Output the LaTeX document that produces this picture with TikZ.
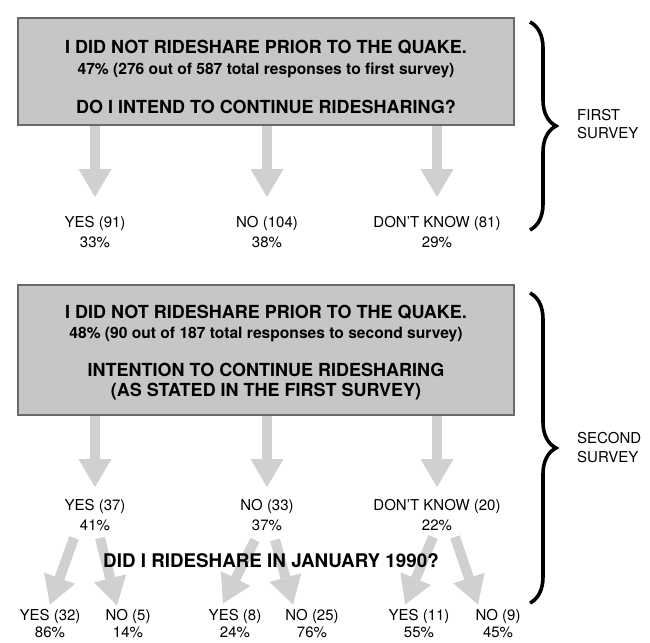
\documentclass[tikz,border=0pt]{standalone}
\usepackage{fontspec}
\setmainfont{TeX Gyre Heros}
\usetikzlibrary{arrows.meta,decorations.pathreplacing}
\definecolor{boxgray}{RGB}{198,198,198}
\definecolor{arrowgray}{RGB}{208,208,208}
\definecolor{edgegray}{RGB}{105,105,105}
\tikzset{
  surveybox/.style={draw=edgegray,line width=1.5pt,fill=boxgray,minimum width=496pt,inner sep=0pt},
  boxhead/.style={inner sep=0pt,font=\fontsize{18}{22}\selectfont\bfseries},
  boxsub/.style={inner sep=0pt,font=\fontsize{15.6}{18}\selectfont\bfseries},
  answer/.style={align=center,inner sep=0pt,font=\fontsize{15}{20}\selectfont},
  lastanswer/.style={answer,font=\fontsize{15}{17}\selectfont},
  fatarrow/.style={draw=arrowgray,line width=10pt,-{Triangle[width=33pt,length=28pt,line width=0pt]}},
  bigbrace/.style={decorate,decoration={brace,amplitude=26pt,aspect=0.5},line width=3.6pt}
}
\begin{document}
\begin{tikzpicture}[x=1pt,y=-1pt]
  \useasboundingbox (0,0) rectangle (650,642);

  % First survey
  \node [surveybox,minimum height=107pt] (box1) at (266,71.5) {};
  \node [boxhead] (t1a) at (266,47) {I DID NOT RIDESHARE PRIOR TO THE QUAKE.};
  \node [boxsub] (t1b) at (266,70) {47\% (276 out of 587 total responses to first survey)};
  \node [boxhead] (t1c) at (266,107) {DO I INTEND TO CONTINUE RIDESHARING?};

  \node [answer] (y1) at (95,232) {YES (91)\\33\%};
  \node [answer] (n1) at (267,232) {NO (104)\\38\%};
  \node [answer] (d1) at (437,232) {DON'T KNOW (81)\\29\%};

  \draw [fatarrow] (box1.south -| y1) -- ([yshift=19pt]y1.north);
  \draw [fatarrow] (box1.south -| n1) -- ([yshift=19pt]n1.north);
  \draw [fatarrow] (box1.south -| d1) -- ([yshift=19pt]d1.north);

  % Second survey
  \node [surveybox,minimum height=130pt] (box2) at (266,350) {};
  \node [boxhead] (t2a) at (266,312) {I DID NOT RIDESHARE PRIOR TO THE QUAKE.};
  \node [boxsub] (t2b) at (266,335) {48\% (90 out of 187 total responses to second survey)};
  \node [boxhead] (t2c) at (266,370) {INTENTION TO CONTINUE RIDESHARING};
  \node [boxhead] (t2d) at (266,392) {(AS STATED IN THE FIRST SURVEY)};

  \node [answer] (y2) at (95,515) {YES (37)\\41\%};
  \node [answer] (n2) at (267,515) {NO (33)\\37\%};
  \node [answer] (d2) at (437,515) {DON'T KNOW (20)\\22\%};

  \draw [fatarrow] (box2.south -| y2) -- ([yshift=12pt]y2.north);
  \draw [fatarrow] (box2.south -| n2) -- ([yshift=12pt]n2.north);
  \draw [fatarrow] (box2.south -| d2) -- ([yshift=12pt]d2.north);

  % January 1990
  \node [lastanswer] (yy) at (50,624) {YES (32)\\86\%};
  \node [lastanswer] (yn) at (128,624) {NO (5)\\14\%};
  \node [lastanswer] (ny) at (235,624) {YES (8)\\24\%};
  \node [lastanswer] (nn) at (312,624) {NO (25)\\76\%};
  \node [lastanswer] (dy) at (419,624) {YES (11)\\55\%};
  \node [lastanswer] (dn) at (498,624) {NO (9)\\45\%};

  \draw [fatarrow] ([xshift=-21pt,yshift=-7pt]y2.south) -- ([yshift=5pt]yy.north);
  \draw [fatarrow] ([xshift=5pt,yshift=-7pt]y2.south) -- ([xshift=-11pt,yshift=4pt]yn.north);
  \draw [fatarrow] ([xshift=-12pt,yshift=-9pt]n2.south) -- ([xshift=-12pt,yshift=6pt]ny.north);
  \draw [fatarrow] ([xshift=8pt,yshift=-9pt]n2.south) -- ([xshift=-19pt,yshift=5pt]nn.north);
  \draw [fatarrow] ([xshift=-4pt,yshift=-6pt]d2.south) -- ([xshift=-14pt,yshift=5pt]dy.north);
  \draw [fatarrow] ([xshift=18pt,yshift=-6pt]d2.south) -- ([xshift=-20pt,yshift=5pt]dn.north);

  \node [boxhead,font=\fontsize{18.8}{22}\selectfont\bfseries] (q) at (271,561) {DID I RIDESHARE IN JANUARY 1990?};

  % Braces
  \coordinate (b1t) at (530,22);
  \coordinate (b1b) at (530,230);
  \coordinate (b2t) at (530,293);
  \coordinate (b2b) at (530,603);
  \draw [bigbrace] (b1t) -- (b1b);
  \draw [bigbrace] (b2t) -- (b2b);
  \node [anchor=west,align=left,inner sep=0pt,font=\fontsize{15}{18}\selectfont] (s1) at (577,124) {FIRST\\SURVEY};
  \node [anchor=west,align=left,inner sep=0pt,font=\fontsize{15}{19}\selectfont] (s2) at (577,447.5) {SECOND\\SURVEY};
\end{tikzpicture}
\end{document}
